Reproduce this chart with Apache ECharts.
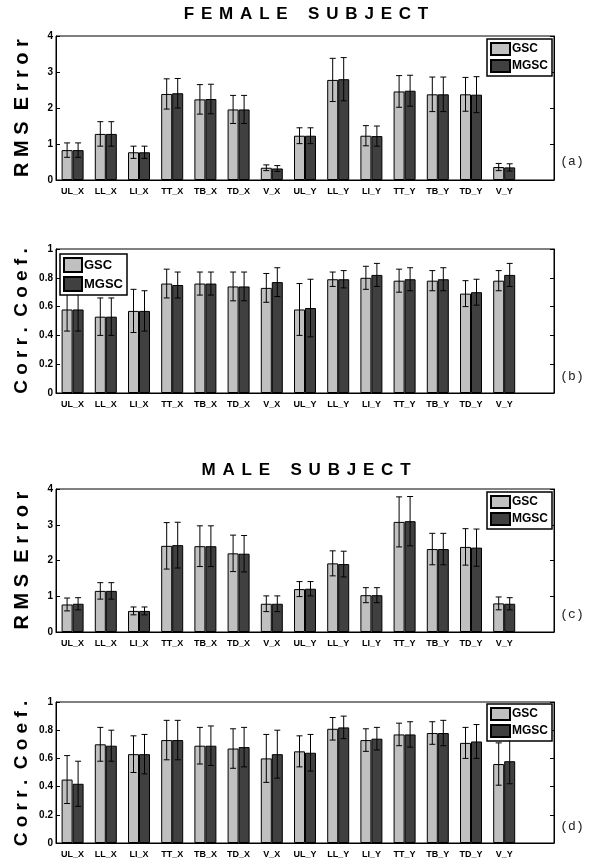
<!DOCTYPE html>
<html>
<head>
<meta charset="utf-8">
<script src="https://cdn.jsdelivr.net/npm/echarts@6/dist/echarts.min.js"></script>
<style>
html,body{margin:0;padding:0;background:#fff;}
#chart{width:602px;height:859px;}
</style>
</head>
<body>
<div id="chart"></div>
<script>
const categories = ['UL_X','LL_X','LI_X','TT_X','TB_X','TD_X','V_X','UL_Y','LL_Y','LI_Y','TT_Y','TB_Y','TD_Y','V_Y',''];

// Female subject - RMS error
const femaleRmsGsc     = [0.83,1.28,0.77,2.39,2.24,1.96,0.34,1.23,2.78,1.23,2.46,2.38,2.38,0.36];
const femaleRmsGscErr  = [0.20,0.34,0.17,0.42,0.41,0.39,0.08,0.22,0.60,0.28,0.44,0.48,0.47,0.10];
const femaleRmsMgsc    = [0.83,1.28,0.77,2.41,2.25,1.96,0.32,1.23,2.80,1.22,2.48,2.38,2.37,0.35];
const femaleRmsMgscErr = [0.20,0.34,0.17,0.41,0.41,0.39,0.08,0.22,0.60,0.28,0.43,0.48,0.50,0.10];

// Female subject - correlation coefficient
const femaleCorGsc     = [0.58,0.53,0.57,0.76,0.76,0.74,0.73,0.58,0.79,0.80,0.78,0.78,0.69,0.78];
const femaleCorGscErr  = [0.15,0.13,0.15,0.10,0.08,0.10,0.10,0.18,0.05,0.08,0.08,0.07,0.09,0.07];
const femaleCorMgsc    = [0.58,0.53,0.57,0.75,0.76,0.74,0.77,0.59,0.79,0.82,0.79,0.79,0.70,0.82];
const femaleCorMgscErr = [0.15,0.13,0.14,0.09,0.08,0.10,0.10,0.20,0.06,0.08,0.08,0.08,0.09,0.08];

// Male subject - RMS error
const maleRmsGsc     = [0.77,1.15,0.59,2.41,2.40,2.20,0.79,1.20,1.92,1.03,3.08,2.32,2.38,0.80];
const maleRmsGscErr  = [0.18,0.23,0.11,0.65,0.57,0.51,0.22,0.21,0.35,0.21,0.70,0.44,0.51,0.18];
const maleRmsMgsc    = [0.79,1.15,0.59,2.43,2.40,2.19,0.79,1.21,1.90,1.03,3.10,2.32,2.36,0.79];
const maleRmsMgscErr = [0.17,0.23,0.11,0.64,0.57,0.51,0.22,0.20,0.36,0.21,0.69,0.44,0.52,0.17];

// Male subject - correlation coefficient
const maleCorGsc     = [0.45,0.70,0.63,0.73,0.69,0.67,0.60,0.65,0.81,0.73,0.77,0.78,0.71,0.56];
const maleCorGscErr  = [0.17,0.12,0.13,0.14,0.13,0.14,0.17,0.11,0.08,0.08,0.08,0.08,0.11,0.15];
const maleCorMgsc    = [0.42,0.69,0.63,0.73,0.69,0.68,0.63,0.64,0.82,0.74,0.77,0.78,0.72,0.58];
const maleCorMgscErr = [0.16,0.11,0.14,0.14,0.14,0.14,0.17,0.13,0.08,0.08,0.09,0.09,0.12,0.16];

const rmsTicks = { min: 0, max: 4, interval: 1 };
const corTicks = { min: 0, max: 1, interval: 0.2 };

const rmsLabel = 'R M S  E r r o r';
const corLabel = 'C o r r .  C o e f .';

const panels = [
  { top: 36,  height: 144, gsc: femaleRmsGsc, gscErr: femaleRmsGscErr, mgsc: femaleRmsMgsc, mgscErr: femaleRmsMgscErr, ticks: rmsTicks, ylabel: rmsLabel, yfont: 20, tag: '(a)', tagY: 162, legend: { left: 487, top: 39, big: false } },
  { top: 249, height: 144, gsc: femaleCorGsc, gscErr: femaleCorGscErr, mgsc: femaleCorMgsc, mgscErr: femaleCorMgscErr, ticks: corTicks, ylabel: corLabel, yfont: 19, tag: '(b)', tagY: 377, legend: { left: 60, top: 254, big: true } },
  { top: 489, height: 143, gsc: maleRmsGsc, gscErr: maleRmsGscErr, mgsc: maleRmsMgsc, mgscErr: maleRmsMgscErr, ticks: rmsTicks, ylabel: rmsLabel, yfont: 20, tag: '(c)', tagY: 615, legend: { left: 487, top: 492, big: false } },
  { top: 702, height: 143, gsc: maleCorGsc, gscErr: maleCorGscErr, mgsc: maleCorMgsc, mgscErr: maleCorMgscErr, ticks: corTicks, ylabel: corLabel, yfont: 19, tag: '(d)', tagY: 827, legend: { left: 487, top: 704, big: false } }
];

const GRID_LEFT = 56, GRID_WIDTH = 498;
const BAR_W = 11;
const colors = { gsc: '#c0c0c0', mgsc: '#404040' };

function errRender(offset) {
  return function (params, api) {
    const i = api.value(0), v = api.value(1), e = api.value(2);
    const hi = api.coord([i, v + e]);
    const lo = api.coord([i, v - e]);
    const x = hi[0] + offset;
    const cw = 3;
    const st = { stroke: '#000', lineWidth: 1 };
    return {
      type: 'group',
      children: [
        { type: 'line', shape: { x1: x, y1: hi[1], x2: x, y2: lo[1] }, style: st },
        { type: 'line', shape: { x1: x - cw, y1: hi[1], x2: x + cw, y2: hi[1] }, style: st },
        { type: 'line', shape: { x1: x - cw, y1: lo[1], x2: x + cw, y2: lo[1] }, style: st }
      ]
    };
  };
}

const grid = [], xAxis = [], yAxis = [], series = [], legend = [], graphic = [];

panels.forEach((p, k) => {
  grid.push({ left: GRID_LEFT, width: GRID_WIDTH, top: p.top, height: p.height, show: true, borderColor: '#000', borderWidth: 1, backgroundColor: '#fff' });
  xAxis.push({
    type: 'category', gridIndex: k, data: categories,
    axisLine: { show: true, lineStyle: { color: '#000', width: 1 } },
    axisTick: { show: false },
    axisLabel: { interval: 0, margin: 7, fontSize: 9, fontWeight: 'bold', fontFamily: 'Arial', color: '#000' },
    splitLine: { show: false }
  });
  yAxis.push({
    type: 'value', gridIndex: k, min: p.ticks.min, max: p.ticks.max, interval: p.ticks.interval,
    axisLine: { show: true, lineStyle: { color: '#000', width: 1 } },
    axisTick: { show: true, inside: true, length: 4, lineStyle: { color: '#000' } },
    axisLabel: { margin: 3, fontSize: 10, fontWeight: 'bold', fontFamily: 'Arial', color: '#000' },
    splitLine: { show: false }
  });
  yAxis.push({
    type: 'value', gridIndex: k, position: 'right', min: p.ticks.min, max: p.ticks.max, interval: p.ticks.interval,
    axisLine: { show: true, lineStyle: { color: '#000', width: 1 } },
    axisTick: { show: true, inside: true, length: 4, lineStyle: { color: '#000' } },
    axisLabel: { show: false },
    splitLine: { show: false }
  });
  const yi = k * 2;
  series.push({
    name: 'GSC', type: 'bar', xAxisIndex: k, yAxisIndex: yi, data: p.gsc,
    barWidth: BAR_W, barGap: '0%',
    itemStyle: { color: colors.gsc, borderColor: '#000', borderWidth: 1 },
    silent: true, animation: false
  });
  series.push({
    name: 'MGSC', type: 'bar', xAxisIndex: k, yAxisIndex: yi, data: p.mgsc,
    barWidth: BAR_W, barGap: '0%',
    itemStyle: { color: colors.mgsc, borderColor: '#000', borderWidth: 1 },
    silent: true, animation: false
  });
  series.push({
    type: 'custom', xAxisIndex: k, yAxisIndex: yi, z: 3,
    data: p.gsc.map((v, i) => [i, v, p.gscErr[i]]),
    renderItem: errRender(-BAR_W / 2), silent: true, animation: false
  });
  series.push({
    type: 'custom', xAxisIndex: k, yAxisIndex: yi, z: 3,
    data: p.mgsc.map((v, i) => [i, v, p.mgscErr[i]]),
    renderItem: errRender(BAR_W / 2), silent: true, animation: false
  });
  const big = p.legend.big;
  legend.push({
    data: ['GSC', 'MGSC'], orient: 'vertical', left: p.legend.left, top: p.legend.top,
    icon: 'rect', itemWidth: big ? 18 : 19, itemHeight: big ? 14 : 12, itemGap: 3,
    padding: [3, 4, 3, 3], borderColor: '#000', borderWidth: 1.5, backgroundColor: '#fff',
    selectedMode: false, z: 10,
    textStyle: { fontSize: big ? 13 : 12, fontWeight: 'bold', fontFamily: 'Arial', color: '#000', padding: [0, 0, 0, -3] }
  });
  const cy = p.top + p.height / 2;
  graphic.push({
    type: 'text', x: 22, y: cy, rotation: Math.PI / 2,
    style: { text: p.ylabel, font: 'bold ' + p.yfont + 'px Arial', fill: '#000', textAlign: 'center', textVerticalAlign: 'middle' }
  });
  graphic.push({
    type: 'text', x: 572, y: p.tagY,
    style: { text: p.tag, font: '13px "Liberation Mono", "Courier New", monospace', fill: '#222', textAlign: 'center', textVerticalAlign: 'middle' }
  });
});

const LG = '\u2009\u2009';          // letter gap
const WG = '\u2002\u2002\u2009';    // word gap
function spaced(words) { return words.map(w => w.split('').join(LG)).join(WG); }

graphic.push({
  type: 'text', x: 306, y: 14,
  style: { text: spaced(['FEMALE', 'SUBJECT']), font: 'bold 17px Arial', fill: '#000', textAlign: 'center', textVerticalAlign: 'middle' }
});
graphic.push({
  type: 'text', x: 306, y: 470,
  style: { text: spaced(['MALE', 'SUBJECT']), font: 'bold 17px Arial', fill: '#000', textAlign: 'center', textVerticalAlign: 'middle' }
});

const chart = echarts.init(document.getElementById('chart'), null, { renderer: 'canvas' });
chart.setOption({
  animation: false,
  backgroundColor: '#fff',
  grid, xAxis, yAxis, series, legend, graphic
});
</script>
</body>
</html>
